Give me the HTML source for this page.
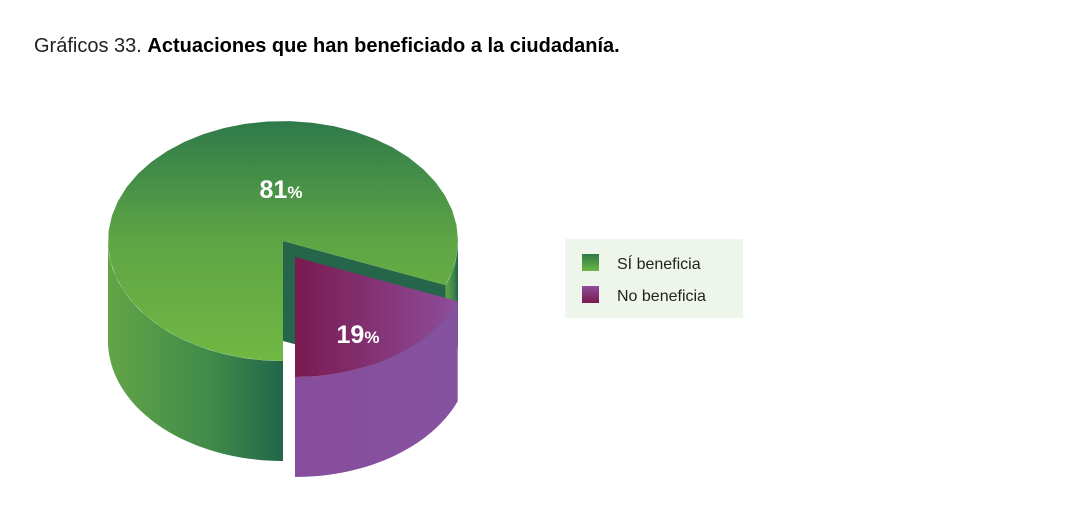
<!DOCTYPE html>
<html><head><meta charset="utf-8"><style>
body{margin:0;background:#fff;width:1080px;height:524px;overflow:hidden;font-family:"Liberation Sans",sans-serif}
</style></head><body>
<svg width="1080" height="524" viewBox="0 0 1080 524">
<defs>
<linearGradient id="gTop" x1="0" y1="0" x2="0" y2="1"><stop offset="0" stop-color="#2f7a4a"/><stop offset="0.5" stop-color="#5ea545"/><stop offset="1" stop-color="#70b843"/></linearGradient>
<linearGradient id="gSide" x1="0" y1="0" x2="1" y2="0"><stop offset="0" stop-color="#62a447"/><stop offset="0.6" stop-color="#3f8a4a"/><stop offset="1" stop-color="#22664a"/></linearGradient>
<linearGradient id="gSlice" x1="0" y1="0" x2="1" y2="0"><stop offset="0" stop-color="#7a1a50"/><stop offset="1" stop-color="#8e4d9b"/></linearGradient>
<linearGradient id="gSliceSide" x1="0" y1="0" x2="1" y2="0"><stop offset="0" stop-color="#874d9c"/><stop offset="1" stop-color="#8552a0"/></linearGradient>
<linearGradient id="gL1" x1="0" y1="0" x2="0" y2="1"><stop offset="0" stop-color="#2f7a4a"/><stop offset="1" stop-color="#6db543"/></linearGradient>
<linearGradient id="gL2" x1="0" y1="0" x2="0" y2="1"><stop offset="0" stop-color="#8e4d9b"/><stop offset="1" stop-color="#7a1a50"/></linearGradient>
</defs>
<text x="34" y="52" font-size="20" fill="#222">Gráficos 33. <tspan font-weight="bold" fill="#000">Actuaciones que han beneficiado a la ciudadanía.</tspan></text>
<g id="pie"></g>
<g>
<rect x="565" y="239" width="178" height="79" fill="#eef5ea"/>
<rect x="582" y="254" width="17" height="17" fill="url(#gL1)"/>
<text x="617" y="269" font-size="16" fill="#222">SÍ beneficia</text>
<rect x="582" y="286" width="17" height="17" fill="url(#gL2)"/>
<text x="617" y="301" font-size="16" fill="#222">No beneficia</text>
</g>
</svg>
<script>
const categories=["SÍ beneficia","No beneficia"];
const values=[81,19];
const cx=283,cy=241,rx=175,ry=120,depth=100,off=[12,16];
const NS="http://www.w3.org/2000/svg";
const g=document.getElementById('pie');
function pt(a,dx,dy,d){const r=a*Math.PI/180;return [cx+dx+rx*Math.cos(r),cy+dy+ry*Math.sin(r)+(d||0)];}
function arc(a0,a1,dx,dy,d){let s="";const n=40;for(let i=0;i<=n;i++){const p=pt(a0+(a1-a0)*i/n,dx,dy,d);s+=(i?"L":"")+p[0].toFixed(1)+","+p[1].toFixed(1);}return s;}
function side(a0,a1,dx,dy){a0=Math.max(a0,0);a1=Math.min(a1,180);if(a1<=a0)return "";
 let s="M"+arc(a0,a1,dx,dy,0);const n=40;for(let i=n;i>=0;i--){const p=pt(a0+(a1-a0)*i/n,dx,dy,depth);s+="L"+p[0].toFixed(1)+","+p[1].toFixed(1);}return s+"Z";}
function add(d,fill,name){const p=document.createElementNS(NS,'path');p.setAttribute('d',d);p.setAttribute('fill',fill);


g.appendChild(p);}
const total=values.reduce((a,b)=>a+b,0);
const sliceSpan=values[1]/total*360;
const sEnd=90,sStart=90-sliceSpan;
// main slice: from sEnd to sStart+360
add(side(0,sStart,0,0),"url(#gSide)","main-side-right");
add(side(sEnd,180,0,0),"url(#gSide)","main-side-front");
const e=pt(sStart,0,0,0);
add(`M${cx},${cy}L${e[0]},${e[1]}L${e[0]},${e[1]+depth}L${cx},${cy+depth}Z`,"#25664a","main-cut-face");
add(`M${cx},${cy}L`+arc(sEnd,sStart+360,0,0,0)+"Z","url(#gTop)","slice-si-top");
// exploded slice
add(side(sStart,sEnd,off[0],off[1]),"url(#gSliceSide)","slice-no-side");
add(`M${cx+off[0]},${cy+off[1]}L`+arc(sStart,sEnd,off[0],off[1],0)+"Z","url(#gSlice)","slice-no-top");
function label(x,y,v,name){const t=document.createElementNS(NS,'text');t.setAttribute('x',x);t.setAttribute('y',y);t.setAttribute('fill','#fff');t.setAttribute('font-weight','bold');t.setAttribute('font-size','25');t.setAttribute('text-anchor','middle');


t.innerHTML=v+'<tspan font-size="17">%</tspan>';g.appendChild(t);}
label(281,198,values[0],"label-si");
label(358,343,values[1],"label-no");
</script>
</body></html>
